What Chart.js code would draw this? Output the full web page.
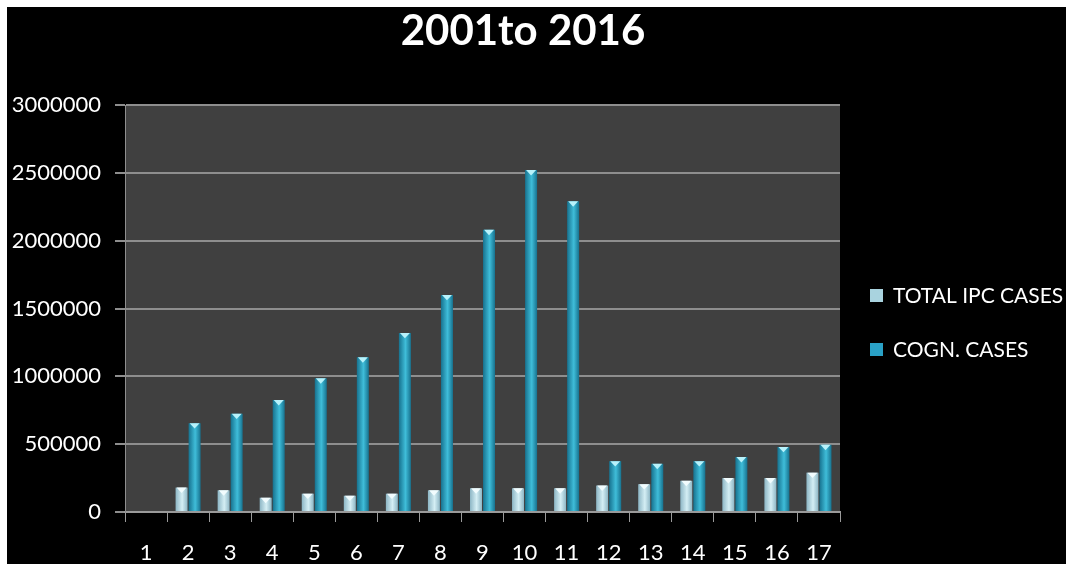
<!DOCTYPE html>
<html>
<head>
<meta charset="utf-8">
<script src="https://cdn.jsdelivr.net/npm/chart.js@4.4.1/dist/chart.umd.min.js"></script>
<style>
  html, body { margin: 0; padding: 0; background: #fff; overflow: hidden; }
  #wrap { position: absolute; left: 7px; top: 7px; width: 1059px; height: 557px; background: #000; }
</style>
</head>
<body>
<div id="wrap"><canvas id="casesChart" width="1059" height="557"></canvas></div>
<script>
const chartTitle = "2001to 2016";
const years = ["1", "2", "3", "4", "5", "6", "7", "8", "9", "10", "11", "12", "13", "14", "15", "16", "17"];
const ipcCases = [0, 180000, 160000, 105000, 135000, 120000, 135000, 160000, 175000, 175000, 175000, 195000, 205000, 230000, 250000, 250000, 290000];
const cognCases = [0, 655000, 725000, 825000, 985000, 1140000, 1320000, 1600000, 2080000, 2520000, 2290000, 375000, 355000, 375000, 405000, 480000, 495000];
const yTicks = [0, 500000, 1000000, 1500000, 2000000, 2500000, 3000000];

const FONT = "Lato, 'Open Sans', sans-serif";

// edge / middle shades per series, plus cap colour and legend swatch
const shades = [
  { edge: "#8db6c5", mid: "#d4eef4", cap: "#f2fcfe", swatch: "#a9d3df" },
  { edge: "#17728f", mid: "#3fbdd9", cap: "#b8f2fb", swatch: "#2aa1c6" }
];

const plotBg = {
  id: "plotBg",
  beforeDraw(chart) {
    const { ctx, chartArea: a } = chart;
    ctx.save();
    ctx.fillStyle = "#404040";
    ctx.fillRect(a.left, a.top, a.right - a.left, a.bottom - a.top);
    ctx.restore();
  }
};

// rounded look: horizontal gradient across each bar, then a bevelled cap on top
const barStyle = {
  id: "barStyle",
  beforeDatasetsDraw(chart) {
    const ctx = chart.ctx;
    chart.data.datasets.forEach((ds, i) => {
      chart.getDatasetMeta(i).data.forEach((bar) => {
        const g = ctx.createLinearGradient(bar.x - bar.width / 2, 0, bar.x + bar.width / 2, 0);
        g.addColorStop(0, shades[i].edge);
        g.addColorStop(0.55, shades[i].mid);
        g.addColorStop(1, shades[i].edge);
        bar.options.backgroundColor = g;
      });
    });
  },
  afterDatasetsDraw(chart) {
    const ctx = chart.ctx;
    chart.data.datasets.forEach((ds, i) => {
      chart.getDatasetMeta(i).data.forEach((bar, j) => {
        if (!ds.data[j]) return;
        const w = bar.width, x = bar.x, y = bar.y;
        ctx.save();
        ctx.fillStyle = shades[i].cap;
        ctx.beginPath();
        ctx.moveTo(x - w / 2 + 1, y);
        ctx.lineTo(x + w / 2 - 1, y);
        ctx.lineTo(x, y + w * 0.45);
        ctx.closePath();
        ctx.fill();
        ctx.restore();
      });
    });
  }
};

// title and legend drawn by hand so they sit where the layout needs them
const titleLegend = {
  id: "titleLegend",
  afterDraw(chart) {
    const { ctx, chartArea: a } = chart;
    ctx.save();
    ctx.fillStyle = "#ffffff";
    ctx.textBaseline = "middle";
    ctx.textAlign = "center";
    ctx.font = "bold 42px " + FONT;
    ctx.fillText(chartTitle, 516, 24);

    ctx.textAlign = "left";
    ctx.font = "21px " + FONT;
    chart.data.datasets.forEach((ds, i) => {
      const y = a.top + 191 + i * 54;
      const x = a.right + 30;
      ctx.fillStyle = shades[i].swatch;
      ctx.fillRect(x, y - 7, 13, 13);
      ctx.fillStyle = "#ffffff";
      ctx.fillText(ds.label, x + 23, y);
    });
    ctx.restore();
  }
};

new Chart(document.getElementById("casesChart"), {
  type: "bar",
  data: {
    labels: years,
    datasets: [
      {
        label: "TOTAL IPC CASES",
        data: ipcCases,
        // scriptable so every bar keeps its own options object
        backgroundColor: () => shades[0].mid,
        borderWidth: 0,
        barPercentage: 0.92,
        categoryPercentage: 0.62
      },
      {
        label: "COGN. CASES",
        data: cognCases,
        backgroundColor: () => shades[1].mid,
        borderWidth: 0,
        barPercentage: 0.92,
        categoryPercentage: 0.62
      }
    ]
  },
  options: {
    responsive: false,
    animation: false,
    layout: { padding: { left: 0, right: 226, top: 98, bottom: 0 } },
    plugins: {
      title: { display: false },
      legend: { display: false },
      tooltip: { enabled: false }
    },
    scales: {
      x: {
        afterFit(axis) { axis.height = 52; },
        grid: {
          display: true,
          drawOnChartArea: false,
          drawTicks: true,
          tickLength: 10,
          color: "#9a9a9a"
        },
        border: { color: "#9a9a9a", width: 2 },
        ticks: {
          color: "#ffffff",
          font: { family: FONT, size: 22 },
          padding: 18
        }
      },
      y: {
        min: 0,
        max: 3000000,
        afterFit(axis) { axis.width = 118; },
        afterBuildTicks(axis) {
          axis.ticks = yTicks.map((v) => ({ value: v }));
        },
        grid: {
          color: "#8e8e8e",
          lineWidth: 2,
          tickLength: 10
        },
        border: { color: "#8e8e8e", width: 1 },
        ticks: {
          color: "#ffffff",
          font: { family: FONT, size: 22 },
          padding: 14,
          callback: (v) => String(v)
        }
      }
    }
  },
  plugins: [plotBg, barStyle, titleLegend]
});
</script>
</body>
</html>
